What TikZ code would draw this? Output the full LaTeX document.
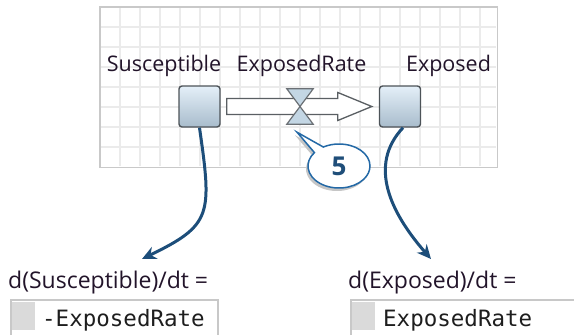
\documentclass[tikz,border=0pt]{standalone}
\usepackage{fontspec}
\setmainfont{Open Sans}
\setmonofont{DejaVu Sans Mono}
\usetikzlibrary{arrows.meta,positioning,calc,shapes.callouts,shadows}
\definecolor{ArrBlue}{HTML}{1D4E7A}
\definecolor{CallBlue}{HTML}{2469A6}
\definecolor{NumBlue}{HTML}{1F4E79}
\definecolor{StkTop}{HTML}{E4EFF8}
\definecolor{StkBot}{HTML}{A8BCCC}
\definecolor{StkBord}{HTML}{4D5358}
\definecolor{VlvFill}{HTML}{C3D6E4}
\definecolor{VlvBord}{HTML}{6B7075}
\definecolor{PipeBord}{HTML}{5A5F63}
\definecolor{GridLn}{HTML}{EBEBEB}
\definecolor{CanvBord}{HTML}{C9C9C9}
\definecolor{EqBord}{HTML}{C8C8C8}
\definecolor{GutFill}{HTML}{DADADA}
\definecolor{LblTxt}{HTML}{22142A}
\definecolor{CodeTxt}{HTML}{1E1E1E}
\tikzset{
  every picture/.append style={>=Stealth},
  canvas/.style={rectangle, fill=white, inner sep=0pt},
  gridln/.style={draw=GridLn, line width=1.1pt},
  stock/.style={rectangle, rounded corners=3pt, draw=StkBord, line width=1.4pt,
                top color=StkTop, bottom color=StkBot, inner sep=0pt,
                minimum width=41pt, minimum height=41pt},
  valvebox/.style={rectangle, inner sep=0pt, minimum width=26pt, minimum height=35pt},
  valve/.style={draw=VlvBord, line width=1.2pt, fill=VlvFill, line join=miter},
  pipe/.style={draw=PipeBord, line width=1.3pt, fill=white, line join=miter},
  bubble/.style={ellipse callout, draw=CallBlue, line width=1.5pt, fill=white,
                 minimum width=62pt, minimum height=44pt, inner sep=0pt,
                 callout pointer arc=22,
                 font=\bfseries\fontsize{26}{28}\selectfont, text=NumBlue,
                 drop shadow={shadow xshift=-2pt, shadow yshift=-3pt, fill=gray!45, opacity=1}},
  link/.style={-{Stealth[length=14pt,width=13pt]}, line width=3pt, draw=ArrBlue},
  eqbox/.style={rectangle, draw=EqBord, line width=1.5pt, fill=white, inner sep=0pt,
                minimum height=45pt},
  gut/.style={rectangle, fill=GutFill, inner sep=0pt, minimum width=23pt, minimum height=28pt},
}
\begin{document}
\begin{tikzpicture}[x=1pt,y=-1pt,
  lbl/.style={font=\fontsize{21.5}{24}\selectfont, text=LblTxt, inner sep=0pt},
  eqlbl/.style={font=\fontsize{23}{26}\selectfont, text=LblTxt, inner sep=0pt},
  code/.style={font=\ttfamily\fontsize{22.5}{26}\selectfont, text=CodeTxt, inner sep=0pt},
]
\useasboundingbox (0,0) rectangle (574,335);

% ---- model canvas with its grid
\node[canvas, anchor=north west, minimum width=397, minimum height=160] (cv) at (100,7) {};
\foreach \gx in {120,140,...,480} \draw[gridln] (\gx,8) -- (\gx,166);
\foreach \gy in {27,47,...,147} \draw[gridln] (101,\gy) -- (496,\gy);
\draw[draw=CanvBord, line width=1.8pt] (cv.north west) rectangle (cv.south east);

% ---- stocks and flow
\node[stock] (sus) at (199.5,106.5) {};
\node[stock] (exp) at (400,106.5) {};
\node[valvebox] (vlv) at (300,106.5) {};

\coordinate (pA) at ($(sus.east)+(6,0)$);
\coordinate (pB) at ($(exp.west)+(-7,0)$);
\draw[pipe] ($(pA)+(0,-8)$) -- ($(pB)+(-34,-8)$) -- ++(0,-6) -- (pB)
  -- ($(pB)+(-34,14)$) -- ++(0,-6) -- ($(pA)+(0,8)$) -- cycle;
\draw[valve] (vlv.north west) -- (vlv.north east) -- (vlv.south west)
  -- (vlv.south east) -- cycle;

\node[lbl, anchor=base] (tS) at (164,71) {Susceptible};
\node[lbl, anchor=base] (tR) at (301.5,71) {ExposedRate};
\node[lbl, anchor=base] (tE) at (448.5,71) {Exposed};

% ---- callout
\coordinate (ptr) at ($(vlv.south)+(-3,8)$);
\node[bubble, callout absolute pointer={(ptr)}] (c5) at (339,166) {5};

% ---- equations
\node[eqlbl, anchor=base west] (dS) at (8,288) {d(Susceptible)/dt =};
\node[eqlbl, anchor=base west] (dE) at (348,288) {d(Exposed)/dt =};
\node[eqbox, anchor=north west, minimum width=207] (bS) at (10,299) {};
\node[eqbox, anchor=north west, minimum width=240] (bE) at (350,299) {};
\node[gut, anchor=north west] (gS) at ($(bS.north west)+(2,3)$) {};
\node[gut, anchor=north west] (gE) at ($(bE.north west)+(2,3)$) {};
\node[code, anchor=base west] (cS) at (42,326) {-ExposedRate};
\node[code, anchor=base west] (cE) at (383,326) {ExposedRate};

% ---- links from stocks to their equations
\coordinate (tipS) at (142,259);
\coordinate (tipE) at (431,259);
\draw[link] (sus.south) .. controls (212,215) and (212,225) .. (tipS);
\draw[link] ($(exp.south)+(3,0)$) .. controls (368,165) and (390,212) .. (tipE);

\end{tikzpicture}
\end{document}
